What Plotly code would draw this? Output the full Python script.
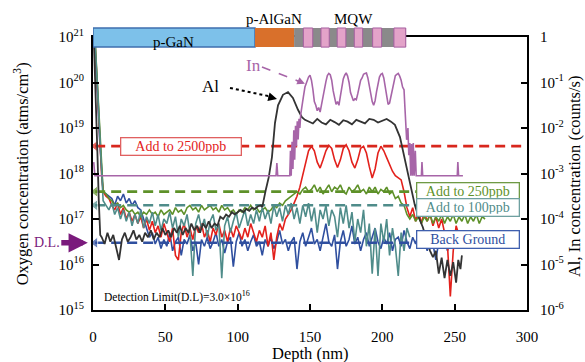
import numpy as np
import plotly.graph_objects as go

# ---------------- data (log10 values) ----------------
# Oxygen concentration (atms/cm^3), log10
head_depth = [0, 1.5, 3, 4.5, 6]
blue_head = [21.4, 20.7, 19.8, 18.8, 17.9]
red_head = [21.4, 20.8, 19.9, 18.9, 17.95]
green_head = [21.4, 20.9, 20.0, 19.0, 18.0]
teal_head = [21.4, 20.85, 19.95, 18.95, 17.85]

blue_vals = [17.6, 17.55, 17.5, 17.45, 17.3, 17.5, 17.4, 17.55, 17.35, 17.45, 17.3, 17.4, 17.25, 17.2, 17.0, 16.8, 16.6, 16.7,
             16.45, 16.6, 16.35, 16.55, 16.4, 16.7, 16.3, 16.5, 16.6, 16.2, 16.55, 16.45, 16.65, 16.3, 16.5, 16.0, 16.55, 16.4,
             16.6, 16.35, 16.5, 16.7, 16.4, 16.55, 16.25, 16.5, 16.6, 15.95, 16.5, 16.7,
             16.4, 16.55, 16.3, 16.5, 16.65, 16.4, 16.5, 16.2, 16.55, 16.4, 16.6, 16.35, 16.5, 16.75, 16.45, 16.55, 16.3, 16.5,
             16.6, 15.9, 16.5, 16.7, 16.4, 16.6, 16.8, 16.45, 16.55, 16.3, 16.6, 16.9,
             16.5, 16.4, 16.65, 15.9, 16.5, 16.75, 16.4, 16.55, 16.85, 16.45, 16.6, 16.3, 16.55, 16.7, 16.4, 16.6, 16.8, 16.5,
             16.35, 16.6, 16.45, 16.7, 16.3, 16.55, 16.6, 16.4, 16.75, 16.5, 16.35, 16.6,
             16.45, 16.7, 16.4, 16.55, 16.3, 16.6, 16.45, 16.1, 16.5, 16.35, 16.6, 16.3, 16.5]

red_vals = [17.6, 17.5, 17.45, 17.3, 17.2, 17.35, 17.1, 17.25, 17.0, 17.15, 16.95, 17.1, 16.9, 17.05, 16.8, 17.0, 16.75,
            16.95, 16.7, 16.85, 16.6, 16.9, 16.7, 16.5, 16.8, 16.2, 16.1, 16.7, 16.9, 16.6, 16.8, 16.55, 16.85, 16.7, 16.9,
            16.6, 16.75, 16.5, 16.8, 16.65, 16.9, 16.6, 16.75, 16.5, 16.8, 16.6, 16.85, 16.7, 16.55, 16.8, 16.6, 16.9, 16.7,
            16.5, 16.75, 16.6, 16.85, 16.4, 16.7, 16.1, 16.6, 16.9, 16.75, 17.0, 17.1]
red_mqw_depth = [137, 139, 141, 143, 145, 147, 149, 151, 153, 155, 157, 159, 161, 163, 165, 167, 169, 171, 173, 175,
                 177, 179, 181, 183, 185, 187, 189, 191, 193, 195, 197, 199, 201, 203, 205, 207, 209, 211, 213, 215,
                 217, 219, 221, 223, 225, 227, 229, 231, 233, 235, 237, 239, 241, 243, 245, 247, 249, 251, 252]
red_mqw_vals = [17.2, 17.35, 17.5, 17.7, 17.95, 18.25, 18.5, 18.6, 18.5, 18.25, 18.12, 18.3, 18.5, 18.62, 18.55, 18.3,
                18.13, 18.3, 18.55, 18.63, 18.5, 18.25, 18.12, 18.3, 18.55, 18.6, 18.45, 18.15, 17.9, 18.1, 18.45, 18.6,
                18.5, 18.35, 18.2, 18.05, 17.95, 17.9, 17.86, 17.6, 17.25, 17.05, 17.25, 16.95, 17.2, 16.9, 17.15, 16.95,
                17.1, 16.85, 17.05, 16.8, 17.0, 16.7, 16.45, 15.3, 16.3, 16.85, 16.75]

green_vals = [17.6, 17.55, 17.45, 17.4, 17.3, 17.35, 17.25, 17.3, 17.2, 17.15, 17.2, 17.1, 17.15, 17.05, 17.15, 17.1,
              17.2, 17.1, 17.15, 17.05, 17.2, 17.1, 17.15, 17.2, 17.1, 17.25, 17.15, 17.2, 17.1, 17.25, 17.3, 17.2,
              17.25, 17.15, 17.3, 17.2, 17.25, 17.3, 17.2, 17.25, 17.15, 17.3, 17.2, 17.25, 17.15, 17.2, 17.1, 17.2,
              17.15, 17.25, 17.2, 17.3, 17.2, 17.25, 17.15, 17.2, 17.25, 17.15, 17.2, 17.3, 17.25, 17.35, 17.3, 17.4, 17.45,
              17.5, 17.55, 17.6, 17.55, 17.65, 17.7, 17.6, 17.65, 17.75, 17.6, 17.7, 17.55, 17.65, 17.75, 17.6, 17.7,
              17.65, 17.75, 17.6, 17.55, 17.7, 17.6, 17.65, 17.75, 17.6, 17.65, 17.55, 17.7, 17.6, 17.7, 17.55, 17.65,
              17.6, 17.7, 17.55, 17.6, 17.45, 17.5, 17.35, 17.3,
              17.1, 17.0, 17.1, 16.95, 17.05, 16.9, 17.05, 16.95, 17.1, 16.9, 17.05, 16.95, 17.1, 16.9, 17.05, 16.95,
              17.1, 16.9, 17.05, 16.95, 17.1, 16.9, 17.05, 16.95, 17.1, 16.9, 17.05, 17.0]

teal_vals = [17.4, 17.3, 17.2, 17.35, 17.1, 17.25, 17.0, 17.2, 16.95, 17.15, 16.85, 17.1, 16.9, 17.2, 16.8, 17.05, 16.9,
             17.15, 16.85, 17.1, 16.75, 17.0, 16.9, 17.15, 16.8, 17.05, 16.6, 17.0, 16.85, 17.1, 16.7, 15.75, 16.9, 17.1,
             16.8, 17.0, 16.6, 16.95, 17.1, 16.75, 16.9, 15.7, 16.85, 17.05, 16.7, 16.95, 17.15, 16.8, 17.0, 17.2, 16.85,
             17.1, 16.9, 17.2, 16.95, 17.25, 17.0, 17.2, 16.9, 17.3, 17.05, 17.25, 16.95, 17.3, 17.1, 17.35, 17.0, 17.25,
             16.9, 17.3, 17.05, 17.35, 16.95, 17.25, 16.7, 17.2, 17.0, 17.3, 16.85, 17.2, 17.05, 16.6, 17.25, 16.9, 17.3,
             16.8, 17.15, 16.5, 17.0, 16.7, 17.2, 16.4, 16.9, 15.8, 16.8, 15.75, 16.9, 16.5, 17.0, 16.2, 16.8, 16.4,
             15.75, 16.7, 16.3, 16.8, 16.6]

# Al and In (counts/s), log10
al_depth = [0, 1.5, 3, 4, 5,
            6, 8, 10, 12, 14, 16, 18, 20, 22, 24, 26, 28, 30, 32, 34, 36, 38, 40, 42, 44, 46, 48, 50, 52, 54, 56,
            58, 60, 62, 64, 66, 68, 70, 72, 74, 76, 78, 80, 82, 84, 86, 88, 90, 92, 94, 96, 98, 100, 102, 104, 106,
            108, 110, 112, 114, 116,
            117, 119.5, 121.5, 123.7, 125.8, 127.9, 131.3, 134.8, 138.2, 141.7, 144.4, 146.5,
            149, 152, 155, 158, 161, 164, 167, 170, 173, 176, 179, 182, 185, 188, 191, 194, 197, 200, 203, 206, 208.7,
            212.2, 215.6, 219, 222.5, 225, 228, 231, 233, 235, 237, 239, 241, 243, 245, 247, 249, 251, 252.5, 254, 255]
al_vals = [0.5, -0.8, -2.5, -3.6, -4.35,
           -4.4, -4.55, -4.3, -4.5, -4.35, -4.6, -4.9, -4.45, -4.3, -4.5, -4.4, -4.25, -4.45, -4.35, -4.5, -4.3, -4.4,
           -4.25, -4.45, -4.3, -4.4, -4.2, -4.35, -4.25, -4.4, -4.2, -4.3, -4.15, -4.35, -4.2, -4.3, -4.1, -4.25, -4.15,
           -4.3, -4.1, -4.2, -4.05, -4.2, -4.1, -4.15, -3.95, -4.0, -3.9, -3.95, -3.85, -3.9, -3.85, -3.8, -3.85,
           -3.78, -3.82, -3.75, -3.78, -3.72, -3.7,
           -3.74, -3.35, -3.08, -2.64, -1.89, -1.5, -1.27, -1.21, -1.34, -1.6, -1.76, -1.82,
           -1.85, -1.9, -1.8, -1.88, -1.92, -1.82, -1.87, -1.93, -1.83, -1.86, -1.92, -1.82, -1.86, -1.9, -1.8, -1.82,
           -1.88, -1.84, -1.8, -1.86, -1.93,
           -2.2, -2.7, -3.25, -3.7, -3.95, -4.18, -4.5, -4.7, -4.84, -4.7, -5.2, -4.85, -5.3, -4.9, -5.25, -4.95,
           -5.4, -4.9, -5.1, -4.8]

in_depth = [0.5, 1.3, 126.5, 127.1, 127.7, 136, 136.5, 137, 137.6, 138.2, 138.8, 139.4, 140, 140.6, 141.2, 141.8, 142.4,
            143, 143.6, 144.5, 145.5, 146.5, 148, 149, 150, 151, 152, 153, 154, 155, 156, 157, 158, 159, 160, 161, 162,
            163, 164, 165, 166, 167, 168, 169, 170, 171, 172, 173, 174, 175, 176, 177, 178, 179, 180, 181, 182, 183,
            184, 185, 186, 187, 188, 189, 190, 191, 192, 193, 194, 195, 196, 197, 198, 199, 200, 201, 202, 203, 204,
            205, 206, 207, 208, 209, 210, 211, 212, 213, 214, 215, 215.6, 216.2, 216.8, 217.7, 218.3, 219, 219.6, 220.2,
            220.8, 221.4, 222, 222.8, 223.4, 227, 227.4, 227.9, 251.8, 252.2, 252.7, 255.7]
in_vals = [-2.75, -3.05, -3.05, -2.77, -3.05, -3.05, -2.5, -3.05, -2.3, -2.9, -2.05, -2.7, -1.95, -2.4, -1.85, -2.25,
           -1.8, -2.0, -1.7, -1.55, -1.3, -1.1, -0.95, -0.88, -0.84, -0.95, -1.15, -1.42, -1.5, -1.62, -1.55, -1.65,
           -1.48, -1.3, -1.1, -0.98, -0.85, -0.8, -0.83, -0.95, -1.18, -1.3, -1.48, -1.42, -1.5, -1.3, -1.12, -0.92,
           -0.84, -0.79, -0.86, -1.0, -1.22, -1.32, -1.4, -1.36, -1.38, -1.25, -1.1, -0.95, -0.9, -0.82, -0.8, -0.79,
           -0.9, -1.1, -1.3, -1.42, -1.5, -1.4, -1.2, -1.0, -0.88, -0.82, -0.8, -0.9, -1.1, -1.32, -1.48, -1.45, -1.3,
           -1.1, -0.95, -0.85, -0.82, -0.8, -0.86, -0.95, -1.1, -1.16, -1.54, -1.9, -2.26, -2.0, -2.6, -2.33, -3.05,
           -2.35, -3.05, -2.33, -3.05, -2.5, -3.05, -3.05, -2.75, -3.05, -3.05, -2.75, -3.05, -3.05]

# reference levels (atms/cm^3) and labels
ref_levels = [4.0e18, 4.0e17, 2.0e17, 3.0e16]
ref_labels = ["Add to 2500ppb", "Add to 250ppb", "Add to 100ppb", "Back Ground"]
ref_end = [300, 226, 226, 226]
detection_limit = 3.0e16

# layer structure (nm)
layer_pgan = (0, 112)
layer_palgan = (112, 139)
layer_mqw = (139, 216.3)
wells = [(145.4, 151.9), (157.6, 163.3), (168.8, 174.8), (180.6, 186.4), (193.3, 199.5), (208.0, 216.2)]

# ---------------- colours ----------------
C_RED = "#e3211c"
C_GREEN = "#5e9129"
C_TEAL = "#4f8c8a"
C_BLUE = "#2f4f9f"
C_BLACK = "#333333"
C_PURPLE = "#a765a8"
FONT = "Liberation Serif"

fig = go.Figure()


def grid(vals, start=7):
    return list(range(start, start + 2 * len(vals), 2))


def pw(v):
    return 10 ** np.array(v, dtype=float)


# oxygen series
fig.add_trace(go.Scatter(x=head_depth + grid(blue_vals), y=pw(blue_head + blue_vals),
                         mode="lines", line=dict(color=C_BLUE, width=1.6)))
fig.add_trace(go.Scatter(x=head_depth + grid(red_vals) + red_mqw_depth, y=pw(red_head + red_vals + red_mqw_vals),
                         mode="lines", line=dict(color=C_RED, width=1.6)))
fig.add_trace(go.Scatter(x=head_depth + grid(green_vals), y=pw(green_head + green_vals),
                         mode="lines", line=dict(color=C_GREEN, width=1.6)))
fig.add_trace(go.Scatter(x=head_depth + grid(teal_vals), y=pw(teal_head + teal_vals),
                         mode="lines", line=dict(color=C_TEAL, width=1.6)))

# reference dashed lines
ref_colors = ["#d8271d", "#5e9129", "#4f8c8a", "#2f4f9f"]
for lvl, end, col in zip(ref_levels, ref_end, ref_colors):
    fig.add_trace(go.Scatter(x=[1.5, end], y=[lvl, lvl], mode="lines+markers",
                             line=dict(color=col, width=2.6, dash="10px,6px"),
                             marker=dict(symbol="triangle-left", size=[10, 0], color=col)))

# Al, In on secondary axis
fig.add_trace(go.Scatter(x=al_depth, y=pw(al_vals), mode="lines", yaxis="y2",
                         line=dict(color=C_BLACK, width=1.8)))
fig.add_trace(go.Scatter(x=in_depth, y=pw(in_vals), mode="lines", yaxis="y2",
                         line=dict(color=C_PURPLE, width=1.6)))

# ---------------- layer bar ----------------
shapes = []
Y0, Y1 = 0.963, 1.033
shapes.append(dict(type="rect", xref="x", yref="paper", x0=layer_pgan[0], x1=layer_pgan[1], y0=Y0, y1=Y1,
                   fillcolor="#7dc1ea", line=dict(color="#3f6fae", width=1.5), layer="above"))
shapes.append(dict(type="rect", xref="x", yref="paper", x0=layer_palgan[0], x1=layer_palgan[1], y0=Y0, y1=Y1,
                   fillcolor="#d9702b", line=dict(width=0), layer="above"))
shapes.append(dict(type="rect", xref="x", yref="paper", x0=layer_mqw[0], x1=layer_mqw[1], y0=Y0, y1=Y1,
                   fillcolor="#8a8a8a", line=dict(width=0), layer="above"))
for a, b in wells:
    shapes.append(dict(type="rect", xref="x", yref="paper", x0=a, x1=b, y0=Y0, y1=Y1,
                       fillcolor="#e3a3c9", line=dict(color="#a55fa0", width=1), layer="above"))

# pointer shafts (dotted / dashed)
shapes.append(dict(type="line", xref="x", yref="y", x0=94.7, y0=10 ** 19.88, x1=123, y1=10 ** 19.69,
                   line=dict(color="black", width=2, dash="dot")))
shapes.append(dict(type="line", xref="x", yref="y", x0=116.8, y0=10 ** 20.34, x1=142, y1=10 ** 20.03,
                   line=dict(color=C_PURPLE, width=1.6, dash="dash")))

ann = []
tf = dict(family=FONT, color="black")
C = dict(xanchor="center", yanchor="middle")
ann.append(dict(C, text="p-GaN", x=55.3, y=0.982, xref="x", yref="paper", showarrow=False, font=dict(tf, size=15)))
ann.append(dict(C, text="p-AlGaN", x=125, y=1.066, xref="x", yref="paper", showarrow=False, font=dict(tf, size=15)))
ann.append(dict(C, text="MQW", x=180, y=1.066, xref="x", yref="paper", showarrow=False, font=dict(tf, size=15)))

# arrowheads
ann.append(dict(text="", x=127.2, y=19.64, xref="x", yref="y", ax=-10, ay=-2.5, showarrow=True,
                arrowhead=2, arrowsize=1.1, arrowwidth=1.6, arrowcolor="black"))
ann.append(dict(text="", x=146.5, y=19.97, xref="x", yref="y", ax=-9, ay=-4, showarrow=True,
                arrowhead=2, arrowsize=1.1, arrowwidth=1.4, arrowcolor=C_PURPLE))
ann.append(dict(C, text="Al", x=81, y=19.92, xref="x", yref="y", showarrow=False, font=dict(tf, size=17)))
ann.append(dict(C, text="In", x=110.6, y=20.38, xref="x", yref="y", showarrow=False,
                font=dict(family=FONT, size=17, color=C_PURPLE)))

# label boxes
box_x = [60.8, 259.2, 259.2, 259.2]
box_y = [18.6, 17.615, 17.242, 16.54]
box_w = [116, 98, 98, 98]
box_col = ["#e3211c", "#5e9129", "#4f8c8a", "#2f4f9f"]
box_border = ["#e06060", "#6f9a45", "#6fa0a0", "#3f5fae"]
for lab, bx, by, bw, col, bc in zip(ref_labels, box_x, box_y, box_w, box_col, box_border):
    ann.append(dict(C, text=lab, x=bx, y=by, xref="x", yref="y", showarrow=False, width=bw, height=13,
                    bgcolor="white", bordercolor=bc, borderwidth=1.3, borderpad=1.5,
                    font=dict(family=FONT, size=14, color=col)))

# detection limit
ann.append(dict(text="D.L.", x=-0.012, y=np.log10(detection_limit), xref="paper", yref="y",
                ax=-41, ay=0, showarrow=True, arrowhead=2, arrowsize=0.7, arrowwidth=5.5,
                arrowcolor="#7a1a7c", font=dict(family=FONT, size=14, color="#7a1a7c")))
ann.append(dict(text="Detection Limit(D.L)=3.0×10<sup>16</sup>", x=0.021, y=0.048, xref="paper", yref="paper",
                xanchor="left", yanchor="middle", showarrow=False, font=dict(tf, size=11.5)))

# axis titles
ann.append(dict(C, text="Depth (nm)", x=0.5, y=-0.16, xref="paper", yref="paper", showarrow=False,
                font=dict(tf, size=16.5)))
ann.append(dict(C, text="Oxygen concentration (atms/cm<sup>3</sup>)", x=-0.164, y=0.50, xref="paper", yref="paper",
                showarrow=False, textangle=-90, font=dict(tf, size=16.5)))
ann.append(dict(C, text="Al, In concentration (counts/s)", x=1.108, y=0.49, xref="paper", yref="paper",
                showarrow=False, textangle=-90, font=dict(tf, size=16.5)))

left_tv = [10.0 ** k for k in range(15, 22)]
left_tt = ["10<sup>%d</sup>" % k for k in range(15, 22)]
right_tv = [10.0 ** -k for k in range(0, 7)]
right_tt = ["1"] + ["10<sup>-%d</sup>" % k for k in range(1, 7)]

axis_common = dict(showgrid=False, zeroline=False, showline=True, linecolor="black", linewidth=2,
                   ticks="inside", ticklen=6, tickwidth=1.5, tickcolor="black",
                   tickfont=dict(family=FONT, size=15, color="black"))

fig.update_layout(
    width=585, height=362,
    margin=dict(l=93, r=58, t=37, b=52),
    paper_bgcolor="white", plot_bgcolor="white",
    showlegend=False,
    xaxis=dict(axis_common, range=[0, 300], tickvals=[0, 50, 100, 150, 200, 250, 300], mirror=True,
               ticklabelstandoff=12),
    yaxis=dict(axis_common, type="log", range=[15, 21], tickvals=left_tv, ticktext=left_tt,
               ticklabelstandoff=4),
    yaxis2=dict(axis_common, type="log", range=[-6, 0], tickvals=right_tv, ticktext=right_tt,
                overlaying="y", side="right", ticklabelstandoff=8),
    shapes=shapes,
    annotations=ann,
)

fig.write_html("out.html")
